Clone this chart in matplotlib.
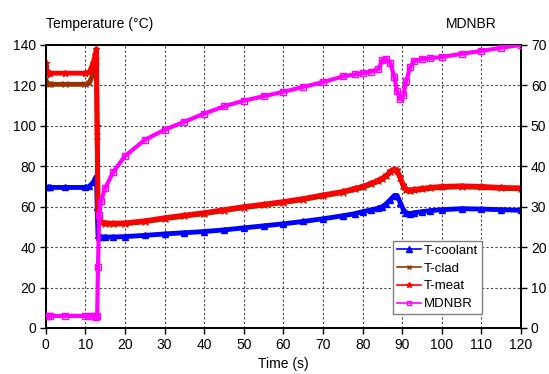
import matplotlib
matplotlib.use("Agg")
import matplotlib.pyplot as plt
from matplotlib.lines import Line2D

plt.rcParams['font.family'] = ['Liberation Sans', 'DejaVu Sans']

time = [0, 0.5, 1, 5, 10, 11, 12, 12.5, 12.8, 13.0, 13.2, 13.5, 14, 15, 17, 20, 25, 30, 35,
        40, 45, 50, 55, 60, 65, 70, 75, 78, 80, 82, 84, 85, 86, 87, 88, 88.7, 89.5, 90.3,
        91, 92, 93, 95, 97, 100, 105, 110, 115, 120]

t_coolant = [69.5, 69.5, 69.5, 69.5, 69.5, 70, 72, 74, 75, 60, 46, 45, 45, 45, 45, 45.2, 45.8, 46.5, 47.1,
             47.7, 48.5, 49.5, 50.5, 51.5, 52.7, 54, 55.5, 56.5, 57.5, 58.3, 59.3, 60, 61.5, 63.5, 65.5,
             65.5, 62, 58.5, 57, 56.5, 57, 57.5, 58, 58.5, 59, 58.8, 58.5, 58.2]

t_meat = [131, 126, 126, 126, 126, 126.5, 131, 135, 138, 100, 58, 54, 52.5, 52, 51.8, 52, 53, 54.5, 55.8,
          57, 58.5, 60, 61.2, 62.5, 64, 65.8, 67.5, 69, 70, 71.5, 73, 74, 75.5, 77.5, 78.5,
          78, 74.5, 70.5, 68.5, 68, 68.5, 69, 69.5, 70, 70.3, 70, 69.5, 69.3]

t_clad = [123, 120.5, 120.5, 120.5, 120.5, 121, 126, 129, 132, 95, 57, 53.5, 52, 51.5, 51.3, 51.5, 52.5, 54, 55.3,
          56.5, 58, 59.5, 60.7, 62, 63.5, 65.3, 67, 68.5, 69.5, 71, 72.5, 73.5, 75, 77, 78,
          77.5, 74, 70, 68, 67.5, 68, 68.5, 69, 69.5, 69.8, 69.5, 69, 68.8]

mdnbr = [3, 3, 3, 3, 3, 3, 3, 3, 2.8, 3, 15, 28, 31.5, 34.5, 38.5, 42.5, 46.5, 49, 51,
         53, 54.8, 56.2, 57.3, 58.4, 59.6, 60.8, 62.2, 62.7, 63, 63.3, 64, 66.3, 66.5, 65.5, 62,
         58.5, 56.5, 57.5, 61, 64.5, 66, 66.5, 66.7, 67, 67.8, 68.5, 69.3, 70]

xticks = list(range(0, 121, 10))
yticks_left = list(range(0, 141, 20))
yticks_right = list(range(0, 71, 10))

c_cool = '#0000FF'
c_clad = '#993300'
c_meat = '#FF0000'
c_mdnbr = '#FF00FF'

fig = plt.figure(figsize=(5.49, 3.74), dpi=100)
ax = fig.add_axes([0.0832, 0.123, 0.866, 0.757])
ax2 = ax.twinx()

ax.plot(time, t_coolant, color=c_cool, lw=3.5, marker='^', ms=4, zorder=3)
ax.plot(time, t_clad, color=c_clad, lw=3.5, marker='x', ms=4, zorder=3)
ax.plot(time, t_meat, color=c_meat, lw=3.5, marker='*', ms=5, zorder=4)
ax2.plot(time, mdnbr, color=c_mdnbr, lw=3, marker='s', ms=4, mfc='none', mew=1, zorder=3)

ax.set_xlim(0, 120)
ax.set_ylim(0, 140)
ax2.set_ylim(0, 70)
ax.set_xticks(xticks)
ax.set_yticks(yticks_left)
ax2.set_yticks(yticks_right)

ax.grid(True, color='#444444', linestyle=(0, (2, 2)), lw=0.8)
ax.set_axisbelow(True)
for a in (ax, ax2):
    a.tick_params(direction='out', length=4, width=1, labelsize=10, colors='black', pad=3)
    for s in a.spines.values():
        s.set_color('black')
        s.set_linewidth(1.3)

fig.text(0.083, 0.937, 'Temperature (\u00b0C)', fontsize=10, ha='left', va='center')
fig.text(0.905, 0.937, 'MDNBR', fontsize=10, ha='right', va='center')
ax.set_xlabel('Time (s)', fontsize=10, labelpad=4)

handles = [
    Line2D([], [], color=c_cool, lw=1.2, marker='^', ms=4),
    Line2D([], [], color=c_clad, lw=1.2, marker='x', ms=3),
    Line2D([], [], color=c_meat, lw=1.2, marker='*', ms=4),
    Line2D([], [], color=c_mdnbr, lw=1.2, marker='s', ms=3, mfc='none'),
]
labels = ['T-coolant', 'T-clad', 'T-meat', 'MDNBR']
leg = ax2.legend(handles, labels, loc='lower left', bbox_to_anchor=(0.731, 0.049),
                 fontsize=9.5, fancybox=False, framealpha=1, edgecolor='#808080',
                 handlelength=1.8, handletextpad=0.2, borderpad=0.3, labelspacing=0.42,
                 borderaxespad=0)
leg.get_frame().set_linewidth(1)

fig.savefig('out.png', dpi=100)
